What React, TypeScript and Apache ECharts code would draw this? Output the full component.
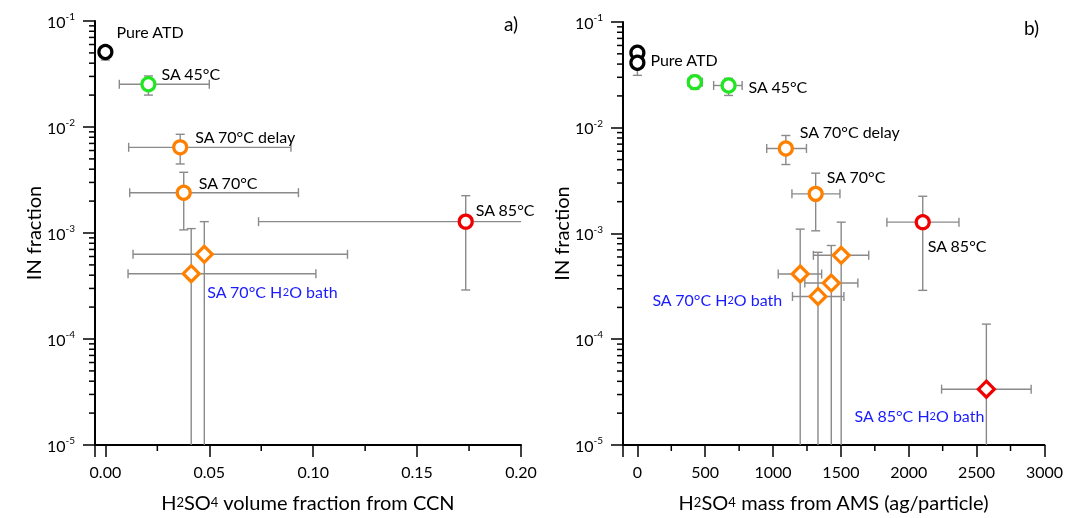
import React, { useEffect, useRef } from 'react';
import * as echarts from 'echarts';

const FONT = 'Lato, "Open Sans", sans-serif';

// ---------- Panel a: H2SO4 volume fraction from CCN ----------
const samplesA = ['Pure ATD', 'SA 45°C', 'SA 70°C delay', 'SA 70°C', 'SA 85°C', 'SA 70°C H2O bath', 'SA 70°C H2O bath'];
const ccnFrac = [0, 0.0207, 0.036, 0.0377, 0.1734, 0.0476, 0.0413];
const ccnFracLow = [null, 0.0067, 0.0112, 0.0117, 0.0737, 0.0133, 0.0109];
const ccnFracHigh = [null, 0.05, 0.0893, 0.0929, 0.26, 0.1165, 0.1013];
const inFracA = [0.051, 0.0253, 0.00643, 0.0024, 0.00128, 0.00063, 0.000413];
const inFracALow = [0.0428, 0.02, 0.00448, 0.00107, 0.00029, 0, 0];
const inFracAHigh = [0.0575, 0.0303, 0.00853, 0.00374, 0.00225, 0.00128, 0.0011];

// ---------- Panel b: H2SO4 mass from AMS ----------
const samplesB = ['Pure ATD', 'Pure ATD', 'SA 45°C', 'SA 45°C', 'SA 70°C delay', 'SA 70°C', 'SA 85°C',
  'SA 70°C H2O bath', 'SA 70°C H2O bath', 'SA 70°C H2O bath', 'SA 70°C H2O bath', 'SA 85°C H2O bath'];
const amsMass = [0, 0, 423, 672, 1094, 1314, 2103, 1502, 1200, 1429, 1331, 2572];
const amsMassLow = [null, null, 373, 562, 953, 1139, 1839, 1297, 1038, 1234, 1143, 2242];
const amsMassHigh = [null, null, 479, 772, 1246, 1493, 2370, 1705, 1358, 1625, 1522, 2902];
const inFracB = [0.0513, 0.0412, 0.027, 0.0251, 0.00637, 0.00237, 0.00128, 0.000622, 0.000414, 0.00034, 0.000254, 3.37e-5];
const inFracBLow = [0.045, 0.0313, 0.0231, 0.0202, 0.00449, 0.00106, 0.00029, 0, 0, 0, 0, 0];
const inFracBHigh = [0.0593, 0.046, 0.0313, 0.0293, 0.00845, 0.00372, 0.00225, 0.00128, 0.0011, 0.00077, 0.000664, 0.000139];

// ---------- minor ticks ----------
const ccnMinorTicks = [0.025, 0.075, 0.125, 0.175];
const amsMinorTicks = [250, 750, 1250, 1750, 2250, 2750];
const inMinorTicks = [2e-5, 3e-5, 4e-5, 5e-5, 6e-5, 7e-5, 8e-5, 9e-5,
  2e-4, 3e-4, 4e-4, 5e-4, 6e-4, 7e-4, 8e-4, 9e-4,
  2e-3, 3e-3, 4e-3, 5e-3, 6e-3, 7e-3, 8e-3, 9e-3,
  2e-2, 3e-2, 4e-2, 5e-2, 6e-2, 7e-2, 8e-2, 9e-2];

// ---------- styles ----------
const ORANGE = '#ff8000';
const sampleStyle: Record<string, { color: string; symbol: string }> = {
  'Pure ATD': { color: '#000000', symbol: 'circle' },
  'SA 45°C': { color: '#22e622', symbol: 'circle' },
  'SA 70°C delay': { color: ORANGE, symbol: 'circle' },
  'SA 70°C': { color: ORANGE, symbol: 'circle' },
  'SA 85°C': { color: '#f00000', symbol: 'circle' },
  'SA 70°C H2O bath': { color: ORANGE, symbol: 'diamond' },
  'SA 85°C H2O bath': { color: '#f00000', symbol: 'diamond' },
};
const sampleLabel: Record<string, string> = {
  'Pure ATD': '{k|Pure ATD}',
  'SA 45°C': '{k|SA 45°C}',
  'SA 70°C delay': '{k|SA 70°C delay}',
  'SA 70°C': '{k|SA 70°C}',
  'SA 85°C': '{k|SA 85°C}',
  'SA 70°C H2O bath': '{b|SA 70°C H}{bs|2}{b|O bath}',
  'SA 85°C H2O bath': '{b|SA 85°C H}{bs|2}{b|O bath}',
};
const labelRich = {
  k: { color: '#000', fontSize: 16, lineHeight: 20, fontFamily: FONT },
  b: { color: '#1a1aff', fontSize: 16, lineHeight: 20, fontFamily: FONT },
  bs: { color: '#1a1aff', fontSize: 11, lineHeight: 11, fontFamily: FONT },
};
// label placement: index -> [dx, dy, align]
const labelPlaceA: Record<number, [number, number, string]> = {
  0: [11, -20, 'left'], 1: [13, -11, 'left'], 2: [15, -11, 'left'], 3: [15, -10, 'left'],
  4: [10, -12, 'left'], 6: [16, 18, 'left'],
};
const labelPlaceB: Record<number, [number, number, string]> = {
  0: [13, 7, 'left'], 3: [20, 1, 'left'], 4: [14, -17, 'left'], 5: [11, -17, 'left'],
  6: [5, 23, 'left'], 8: [-18, 25, 'right'], 11: [-2, 26, 'right'],
};

const XA = [-0.005, 0.2];
const XB = [-106, 3000];
const Y = [1e-5, 1e-1];

function scatterData(samples: string[], xs: number[], ys: number[], place: Record<number, [number, number, string]>) {
  return samples.map((s, i) => {
    const st = sampleStyle[s];
    const isD = st.symbol === 'diamond';
    const item: any = {
      value: [xs[i], ys[i]],
      symbol: st.symbol,
      symbolSize: isD ? 16 : 13,
      itemStyle: { color: '#ffffff', borderColor: st.color, borderWidth: 3.2, opacity: 1 },
    };
    const p = place[i];
    if (p) {
      item.label = {
        show: true, position: 'inside', formatter: sampleLabel[s], rich: labelRich,
        align: p[2], verticalAlign: 'middle', offset: [p[0], p[1]],
      };
    }
    return item;
  });
}

function errData(xs: number[], xl: (number | null)[], xh: (number | null)[], ys: number[], yl: number[], yh: number[]) {
  return xs.map((x, i) => [x, ys[i], xl[i] == null ? x : xl[i], xh[i] == null ? x : xh[i], yl[i], yh[i]]);
}

function errRender(xr: number[], yr: number[]) {
  return (params: any, api: any) => {
    const x = api.value(0), y = api.value(1);
    const xl = api.value(2), xh = api.value(3), yl = api.value(4), yh = api.value(5);
    const cap = 4.5;
    const st = { stroke: '#8a8a8a', lineWidth: 1.4 };
    const ch: any[] = [];
    const ln = (a: number[], b: number[]) => ch.push({ type: 'line', shape: { x1: a[0], y1: a[1], x2: b[0], y2: b[1] }, style: st });
    if (xl !== xh) {
      const lo = Math.max(xl, xr[0]), hi = Math.min(xh, xr[1]);
      const p1 = api.coord([lo, y]), p2 = api.coord([hi, y]);
      ln(p1, p2);
      if (xl >= xr[0]) ln([p1[0], p1[1] - cap], [p1[0], p1[1] + cap]);
      if (xh <= xr[1]) ln([p2[0], p2[1] - cap], [p2[0], p2[1] + cap]);
    }
    const lo = yl > yr[0] ? yl : yr[0];
    const hi = yh < yr[1] ? yh : yr[1];
    const q1 = api.coord([x, lo]), q2 = api.coord([x, hi]);
    ln(q1, q2);
    if (yl > yr[0]) ln([q1[0] - cap, q1[1]], [q1[0] + cap, q1[1]]);
    if (yh < yr[1]) ln([q2[0] - cap, q2[1]], [q2[0] + cap, q2[1]]);
    return { type: 'group', children: ch };
  };
}

function yMinorSeries(idx: number, xMin: number) {
  return {
    type: 'custom', xAxisIndex: idx, yAxisIndex: idx, clip: false, z: 10,
    data: inMinorTicks.map((v) => [xMin, v]),
    renderItem: (params: any, api: any) => {
      const p = api.coord([api.value(0), api.value(1)]);
      return { type: 'line', shape: { x1: p[0] - 6, y1: p[1], x2: p[0], y2: p[1] }, style: { stroke: '#000', lineWidth: 1.5 } };
    },
  };
}
function xMinorSeries(idx: number, ticks: number[]) {
  return {
    type: 'custom', xAxisIndex: idx, yAxisIndex: idx, clip: false, z: 10,
    data: ticks.map((v) => [v, Y[0]]),
    renderItem: (params: any, api: any) => {
      const p = api.coord([api.value(0), api.value(1)]);
      return { type: 'line', shape: { x1: p[0], y1: p[1], x2: p[0], y2: p[1] + 6 }, style: { stroke: '#000', lineWidth: 1.5 } };
    },
  };
}

function yAxisCfg(idx: number) {
  return {
    type: 'log', gridIndex: idx, min: Y[0], max: Y[1], logBase: 10,
    name: 'IN fraction', nameLocation: 'middle', nameGap: 52,
    nameTextStyle: { color: '#000', fontSize: 20, fontFamily: FONT },
    axisLine: { show: true, onZero: false, lineStyle: { color: '#000', width: 2 } },
    axisTick: { show: true, length: 12, lineStyle: { color: '#000', width: 1.5 } },
    splitLine: { show: false },
    axisLabel: {
      margin: 20,
      formatter: (v: number) => `{b|10}{s|${Math.round(Math.log10(v))}}`,
      rich: {
        b: { fontSize: 16, lineHeight: 20, color: '#000', fontFamily: FONT },
        s: { fontSize: 10, lineHeight: 10, color: '#000', fontFamily: FONT, verticalAlign: 'top' },
      },
    },
  };
}

function xAxisCfg(idx: number, range: number[], interval: number, fmt: (v: number) => string, name: string) {
  return {
    type: 'value', gridIndex: idx, min: range[0], max: range[1],
    name, nameLocation: 'middle', nameGap: 44,
    nameTextStyle: {
      color: '#000', fontSize: 20, fontFamily: FONT,
      rich: {
        t: { fontSize: 20, lineHeight: 26, color: '#000', fontFamily: FONT },
        s: { fontSize: 13, lineHeight: 13, color: '#000', fontFamily: FONT },
      },
    },
    axisLine: { show: true, onZero: false, lineStyle: { color: '#000', width: 2 } },
    axisTick: { show: true, length: 12, lineStyle: { color: '#000', width: 1.5 } },
    axisLabel: {
      color: '#000', fontSize: 16, fontFamily: FONT, margin: 18,
      formatter: (v: number) => (Math.abs(v / interval - Math.round(v / interval)) < 1e-6 ? fmt(v) : ''),
    },
    splitLine: { show: false },
  };
}

export default function App() {
  const ref = useRef<HTMLDivElement>(null);
  useEffect(() => {
    if (!ref.current) return;
    const chart = echarts.init(ref.current, undefined, { renderer: 'svg' });
    const option: any = {
      animation: false,
      grid: [
        { left: 95, top: 21, width: 426, height: 424 },
        { left: 623, top: 22, width: 424, height: 423 },
      ],
      xAxis: [
        xAxisCfg(0, XA, 0.05, (v: number) => v.toFixed(2), '{t|H}{s|2}{t|SO}{s|4}{t| volume fraction from CCN}'),
        xAxisCfg(1, XB, 500, (v: number) => String(Math.round(v)), '{t|H}{s|2}{t|SO}{s|4}{t| mass from AMS (ag/particle)}'),
      ],
      yAxis: [yAxisCfg(0), yAxisCfg(1)],
      graphic: [
        { type: 'text', left: 504, top: 14, style: { text: 'a)', fontSize: 19, fontFamily: FONT, fill: '#000' } },
        { type: 'text', left: 1024, top: 18, style: { text: 'b)', fontSize: 19, fontFamily: FONT, fill: '#000' } },
      ],
      series: [
        {
          type: 'custom', xAxisIndex: 0, yAxisIndex: 0, clip: false, z: 2,
          data: errData(ccnFrac, ccnFracLow, ccnFracHigh, inFracA, inFracALow, inFracAHigh),
          renderItem: errRender(XA, Y),
        },
        {
          type: 'custom', xAxisIndex: 1, yAxisIndex: 1, clip: false, z: 2,
          data: errData(amsMass, amsMassLow, amsMassHigh, inFracB, inFracBLow, inFracBHigh),
          renderItem: errRender(XB, Y),
        },
        {
          type: 'scatter', xAxisIndex: 0, yAxisIndex: 0, z: 4, clip: false,
          data: scatterData(samplesA, ccnFrac, inFracA, labelPlaceA),
        },
        {
          type: 'scatter', xAxisIndex: 1, yAxisIndex: 1, z: 4, clip: false,
          data: scatterData(samplesB, amsMass, inFracB, labelPlaceB),
        },
        yMinorSeries(0, XA[0]),
        yMinorSeries(1, XB[0]),
        xMinorSeries(0, ccnMinorTicks),
        xMinorSeries(1, amsMinorTicks),
      ],
    };
    chart.setOption(option);
    return () => chart.dispose();
  }, []);
  return <div ref={ref} style={{ position: 'fixed', left: 0, top: 0, width: 1066, height: 518 }} />;
}
